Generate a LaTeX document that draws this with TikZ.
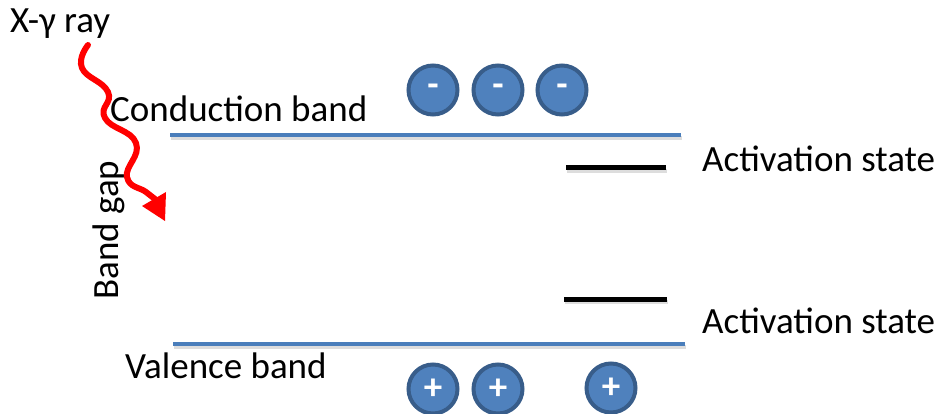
\documentclass[tikz,border=0pt]{standalone}
\usepackage{fontspec}
\setmainfont{Carlito}
\usetikzlibrary{arrows.meta}
\definecolor{bandblue}{HTML}{4A7EBB}
\definecolor{chargefill}{HTML}{4F81BD}
\definecolor{chargeedge}{HTML}{385D8A}
\tikzset{
  lbl/.style={font=\fontsize{37}{44}\selectfont, inner sep=0pt},
  charge/.style={circle, fill=chargefill, draw=chargeedge, line width=4pt,
    minimum size=49pt, inner sep=0pt, text=white,
    font=\fontsize{37}{44}\selectfont\bfseries},
  band/.style={bandblue, line width=4.5pt},
  level/.style={black, line width=5pt},
  shade/.style={gray!45, line width=4.5pt, opacity=0.6},
}
\begin{document}
\begin{tikzpicture}[x=1pt, y=-1pt]
\useasboundingbox (0,0) rectangle (942,414);

% band edges and their soft shadows
\coordinate (cbL) at (170,135);  \coordinate (cbR) at (681,135);
\coordinate (vbL) at (173,344);  \coordinate (vbR) at (685,344);
\coordinate (a1L) at (566,168);  \coordinate (a1R) at (666,168);
\coordinate (a2L) at (564,299);  \coordinate (a2R) at (667,299);
\draw[shade] ([shift={(1,3)}]cbL) -- ([shift={(1,3)}]cbR);
\draw[shade] ([shift={(1,3)}]vbL) -- ([shift={(1,3)}]vbR);
\draw[shade] ([shift={(1,3)}]a1L) -- ([shift={(1,3)}]a1R);
\draw[shade] ([shift={(1,3)}]a2L) -- ([shift={(1,3)}]a2R);
\draw[band] (cbL) -- (cbR);
\draw[band] (vbL) -- (vbR);
\draw[level] (a1L) -- (a1R);
\draw[level] (a2L) -- (a2R);

% labels
\node[lbl, anchor=base west] (xray) at (10,33) {X-γ ray};
\node[lbl, anchor=base west] (cb) at (110,122) {Conduction band};
\node[lbl, anchor=base west] (vb) at (125,378) {Valence band};
\node[lbl, anchor=base west] (as1) at (702,172) {Activation state};
\node[lbl, anchor=base west] (as2) at (702,333) {Activation state};
\node[lbl, anchor=base west, rotate=90] (gap) at (118,300) {Band gap};

% incoming radiation
\draw[red, line width=6pt, line cap=round]
  plot[smooth, tension=0.8] coordinates
  {(88,45) (82,68) (108,92) (105,118) (136,143) (127,177) (146,192) (155,199)};
\fill[red] (142,206) -- (166,192) -- (165,221) -- cycle;

% electrons
\node[charge] (e1) at (433,90) {-};
\node[charge] (e2) at (498,90) {-};
\node[charge] (e3) at (562,90) {-};
% holes
\node[charge] (h1) at (433,389) {+};
\node[charge] (h2) at (498,389) {+};
\node[charge] (h3) at (611,388) {+};
\end{tikzpicture}
\end{document}
